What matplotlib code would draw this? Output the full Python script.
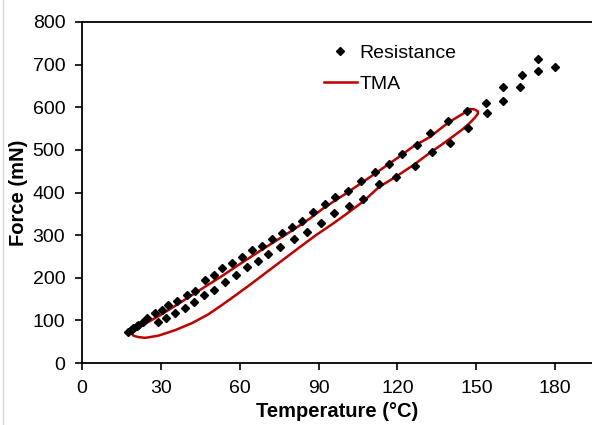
import matplotlib
matplotlib.use("Agg")
import matplotlib.pyplot as plt
from matplotlib.lines import Line2D

plt.rcParams['font.family'] = ['Liberation Sans', 'DejaVu Sans']

# resistance data, upper row of the loop
upper_T = [17.6, 18.6, 19.5, 20.9, 21.4, 23.3, 24.6, 27.8, 30.3, 32.8, 36.0, 39.8, 43.0,
           46.8, 50.2, 53.1, 57.0, 60.7, 64.5, 68.3, 72.1, 75.9, 79.7, 83.5, 87.8,
           92.4, 96.2, 101.3, 106.0, 111.4, 116.7, 121.6, 127.3, 132.3, 139.2, 146.4]
upper_F = [73, 77, 81, 86, 89, 97, 105, 117, 125, 136, 146, 160, 170,
           195, 207, 222, 235, 249, 264, 275, 291, 306, 320, 333, 355,
           373, 389, 404, 426, 448, 467, 490, 512, 540, 568, 591]

# lower row of the loop
lower_T = [28.8, 32.0, 35.4, 39.0, 42.6, 46.4, 50.4, 54.4, 58.4, 62.6, 66.8, 70.8,
           75.5, 80.8, 85.7, 91.1, 96.0, 101.5, 107.0, 113.0, 119.4, 126.6, 133.0,
           139.9, 146.9]
lower_F = [97, 106, 117, 130, 142, 160, 171, 190, 206, 226, 239, 255,
           273, 290, 307, 328, 352, 368, 384, 419, 437, 461, 494,
           517, 551]

# points above 150 C
tail_T = [153.5, 153.9, 160.0, 160.2, 167.2, 166.8, 173.3, 173.5, 179.8]
tail_F = [609, 586, 647, 615, 676, 647, 713, 685, 695]

# TMA loop
tma_T = [18.9, 19.6, 21.3, 24.0, 29.0, 35.4, 42.0, 48.0, 53.0, 58.0, 64.0, 70.0,
         76.0, 82.9, 89.0, 95.0, 100.0, 107.0, 113.0, 119.4, 126.0, 132.3, 137.0,
         141.0, 144.5, 147.5, 149.5, 150.6, 150.5, 149.3, 147.5, 146.3, 142.0,
         138.7, 132.3, 126.0, 120.0, 110.0, 100.0, 92.0, 86.7, 80.0, 70.0, 60.0,
         52.5, 46.8, 40.0, 35.4, 30.0, 26.0, 24.0, 22.0, 20.3, 18.9]
tma_F = [69, 64, 61, 59, 64, 77, 94, 114, 135, 157, 184, 212,
         240, 272, 300, 325, 347, 379, 413, 437, 464, 493, 513,
         531, 547, 563, 576, 585, 591, 595, 596, 590, 574,
         561, 530, 508, 481, 438, 396, 364, 339, 311, 272, 232,
         201, 179, 152, 134, 113, 99, 92, 84, 76, 69]

fig = plt.figure(figsize=(5.92, 4.25), dpi=100)
ax = fig.add_axes([82 / 592, 1 - 363 / 425, 1 - 82 / 592, (363 - 22) / 425])

res_T = upper_T + lower_T + tail_T
res_F = upper_F + lower_F + tail_F
ax.plot(res_T, res_F, 'D', color='black', markersize=3.8, label='Resistance', zorder=3)
ax.plot(tma_T, tma_F, '-', color='#C00000', linewidth=1.8, label='TMA', zorder=2)

ax.set_xlim(0, 194)
ax.set_ylim(0, 800)
ax.set_xticks(range(0, 181, 30))
ax.set_yticks(range(0, 801, 100))
ax.tick_params(direction='out', length=5, width=1.2, labelsize=14, pad=7, colors='black')
for s in ['left', 'bottom', 'top']:
    ax.spines[s].set_linewidth(1.3)
ax.spines['right'].set_visible(False)

ax.set_xlabel('Temperature (°C)', fontsize=14.5, fontweight='bold', labelpad=4)
ax.set_ylabel('Force (mN)', fontsize=14.5, fontweight='bold', labelpad=3)

ax.legend(loc='upper left', bbox_to_anchor=(0.459, 0.958), frameon=False, fontsize=14,
          handlelength=1.69, handletextpad=0.15, labelspacing=0.7, borderaxespad=0)

# thin border line at far left of the picture
fig.add_artist(Line2D([0.005, 0.005], [0, 1], color='#d9d9d9', linewidth=1))

fig.savefig('out.png', dpi=100)
